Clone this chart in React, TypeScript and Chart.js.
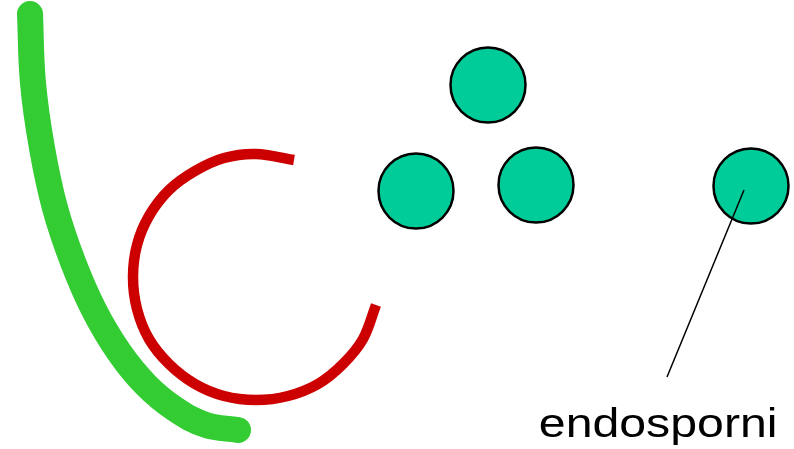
import React, { useEffect, useRef } from "react";
import { Chart, registerables } from "chart.js";

Chart.register(...registerables);

// Green flagellum-like curve (page coordinates)
const greenX = [30, 33, 42, 55, 73, 94, 119, 146, 175, 206, 238];
const greenY = [14, 83, 148, 208, 262, 310, 352, 385, 409, 425, 430];

// Red open ring
const redX = [294, 256, 224, 195, 169, 149, 137, 133, 137, 149, 169, 195, 224, 256, 288, 318, 343, 363, 376];
const redY = [160, 154, 158, 171, 190, 216, 245, 277, 309, 339, 364, 384, 396, 400, 396, 384, 364, 339, 305];

// Spores (circle centres)
const sporeX = [488, 416, 536, 751];
const sporeY = [85, 191, 185, 186];

// Pointer line
const pointerX = [744, 667];
const pointerY = [190, 377];

// Label
const labelText = "endosporni";
const labelX = [540];
const labelY = [437];

const W = 794;
const H = 449;

const toPts = (xs: number[], ys: number[]) => xs.map((x, i) => ({ x, y: ys[i] }));

export default function App() {
  const ref = useRef<HTMLCanvasElement | null>(null);

  useEffect(() => {
    if (!ref.current) return;
    const labelPlugin = {
      id: "labelPlugin",
      afterDatasetsDraw(chart: any) {
        const ctx = chart.ctx;
        const xs = chart.scales.x;
        const ys = chart.scales.y;
        const px = xs.getPixelForValue(labelX[0]);
        const py = ys.getPixelForValue(labelY[0]);
        ctx.save();
        ctx.font = "41px 'Liberation Sans', Arial, sans-serif";
        ctx.fillStyle = "#000000";
        ctx.textBaseline = "alphabetic";
        ctx.textAlign = "left";
        const m = ctx.measureText(labelText);
        const inkW = (m.actualBoundingBoxRight || m.width) + (m.actualBoundingBoxLeft || 0);
        const sx = 235 / inkW;
        ctx.translate(px, py);
        ctx.scale(sx, 1);
        ctx.fillText(labelText, (m.actualBoundingBoxLeft || 0), 0);
        ctx.restore();
      },
    };

    const chart = new Chart(ref.current, {
      type: "scatter",
      data: {
        datasets: [
          {
            label: "pointer",
            data: toPts(pointerX, pointerY),
            showLine: true,
            borderColor: "#000000",
            borderWidth: 1.5,
            pointRadius: 0,
            tension: 0,
            order: 0,
            clip: false as any,
          },
          {
            label: "spores",
            data: toPts(sporeX, sporeY),
            showLine: false,
            pointRadius: 37.5,
            pointHoverRadius: 37.5,
            pointBackgroundColor: "#00CC99",
            pointBorderColor: "#000000",
            pointBorderWidth: 2.5,
            order: 1,
            clip: false as any,
          },
          {
            label: "ring",
            data: toPts(redX, redY),
            showLine: true,
            borderColor: "#CC0000",
            borderWidth: 10.5,
            borderCapStyle: "butt",
            borderJoinStyle: "round",
            pointRadius: 0,
            tension: 0.34,
            order: 2,
            clip: false as any,
          },
          {
            label: "curve",
            data: toPts(greenX, greenY),
            showLine: true,
            borderColor: "#33CC33",
            borderWidth: 26,
            borderCapStyle: "round",
            borderJoinStyle: "round",
            pointRadius: 0,
            tension: 0.4,
            order: 3,
            clip: false as any,
          },
        ],
      },
      options: {
        animation: false,
        responsive: false,
        maintainAspectRatio: false,
        layout: { padding: 0, autoPadding: false },
        events: [],
        plugins: {
          legend: { display: false },
          tooltip: { enabled: false },
        },
        scales: {
          x: { type: "linear", min: 0, max: W, display: false },
          y: { type: "linear", min: 0, max: H, reverse: true, display: false },
        },
      },
      plugins: [labelPlugin],
    });
    return () => chart.destroy();
  }, []);

  return (
    <div style={{ position: "fixed", left: 0, top: 0, width: W, height: H, background: "#ffffff" }}>
      <canvas ref={ref} width={W} height={H} style={{ display: "block", width: W, height: H }} />
    </div>
  );
}
